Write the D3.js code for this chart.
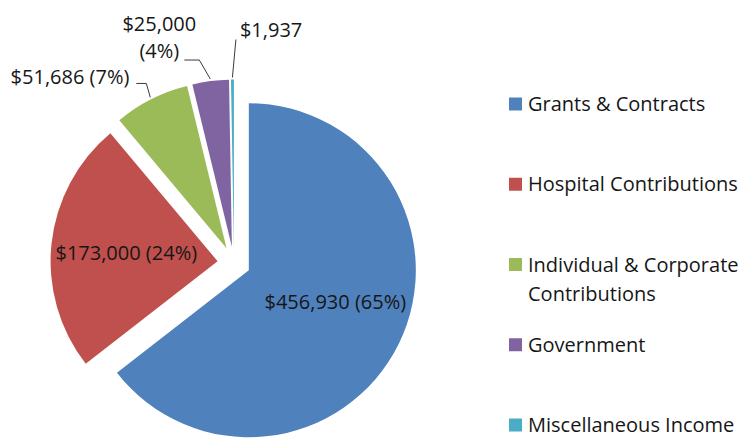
<!DOCTYPE html>
<html>
<head>
<meta charset="utf-8">
<script src="https://cdn.jsdelivr.net/npm/d3@7"></script>
<style>
  body { margin: 0; background: #fff; }
  svg text { font-family: "Open Sans", sans-serif; fill: #161616; }
</style>
</head>
<body>
<div id="chart"></div>
<script>
// data
const categories = ["Grants & Contracts", "Hospital Contributions", "Individual & Corporate Contributions", "Government", "Miscellaneous Income"];
const amounts = [456930, 173000, 51686, 25000, 1937];
const percentLabels = ["65%", "24%", "7%", "4%", null];
const legendLines = [["Grants & Contracts"], ["Hospital Contributions"], ["Individual & Corporate", "Contributions"], ["Government"], ["Miscellaneous Income"]];
const colors = ["#4f81bd", "#c0504d", "#9bbb59", "#8064a2", "#4bacc6"];

const width = 740, height = 440;
const cx = 234, cy = 263, radius = 167, explode = 16.5;
const fontSize = 20;

// label placement: inside labels get a nudge, outside ones a leader path (relative to arc edge)
const labelLayout = [
  { inside: true, nudge: [4, -9] },
  { inside: true, nudge: [0, 2] },
  { inside: false, leader: [[-4, -14], [-14, -14]], anchor: 'end', text: [-7, 1], lines: 1 },
  { inside: false, leader: [[-11, -19], [-26, -19]], anchor: 'middle', text: [-25, -29], lines: 2 },
  { inside: false, leader: [[3.5, -38]], anchor: 'start', text: [4, -3], lines: 1 }
];

const svg = d3.select('#chart').append('svg')
  .attr('width', width)
  .attr('height', height);

const pieData = d3.pie().sort(null).value(d => d)(amounts);
const money = d3.format('$,');
const arc = d3.arc().innerRadius(0).outerRadius(radius);

function polar(d, dist) {
  const a = (d.startAngle + d.endAngle) / 2;
  return [Math.sin(a) * dist, -Math.cos(a) * dist];
}

const pieG = svg.append('g').attr('transform', `translate(${cx},${cy})`);

pieG.selectAll('path')
  .data(pieData)
  .enter().append('path')
  .attr('d', arc)
  .attr('transform', d => {
    const o = polar(d, explode);
    return `translate(${o[0]},${o[1]})`;
  })
  .style('fill', (d, i) => colors[i]);

// data labels
pieData.forEach((d, i) => {
  const lay = labelLayout[i];
  const apex = polar(d, explode);
  const parts = [money(amounts[i])];
  if (percentLabels[i]) parts.push(`(${percentLabels[i]})`);

  if (lay.inside) {
    const p = polar(d, radius * 0.55);
    pieG.append('text')
      .attr('x', apex[0] + p[0] + lay.nudge[0])
      .attr('y', apex[1] + p[1] + lay.nudge[1])
      .attr('dy', '0.35em')
      .attr('text-anchor', 'middle')
      .style('font-size', fontSize + 'px')
      .text(parts.join(' '));
    return;
  }

  const edge = polar(d, radius + 2);
  const s = [apex[0] + edge[0], apex[1] + edge[1]];
  const pts = [s].concat(lay.leader.map(o => [s[0] + o[0], s[1] + o[1]]));
  pieG.append('path')
    .attr('d', d3.line()(pts))
    .style('fill', 'none')
    .style('stroke', '#3a3a3a')
    .style('stroke-width', 1);

  const tail = pts[pts.length - 1];
  const t = pieG.append('text')
    .attr('text-anchor', lay.anchor)
    .style('font-size', fontSize + 'px');
  const lines = lay.lines === 2 ? parts : [parts.join(' ')];
  lines.forEach((ln, j) => {
    t.append('tspan')
      .attr('x', tail[0] + lay.text[0])
      .attr('y', tail[1] + lay.text[1] + j * 27)
      .text(ln);
  });
});

// legend
const legendY = d3.scalePoint()
  .domain(categories)
  .range([104, 425]);

const legend = svg.append('g').attr('class', 'legend');

const items = legend.selectAll('g')
  .data(categories)
  .enter().append('g')
  .attr('transform', d => `translate(509,${legendY(d)})`);

items.append('rect')
  .attr('y', -6.5)
  .attr('width', 13)
  .attr('height', 13)
  .style('fill', (d, i) => colors[i]);

items.append('text')
  .style('font-size', fontSize + 'px')
  .each(function (d, i) {
    d3.select(this).selectAll('tspan')
      .data(legendLines[i])
      .enter().append('tspan')
      .attr('x', 19)
      .attr('y', (l, j) => j * 29)
      .attr('dy', '0.35em')
      .text(l => l);
  });
</script>
</body>
</html>
